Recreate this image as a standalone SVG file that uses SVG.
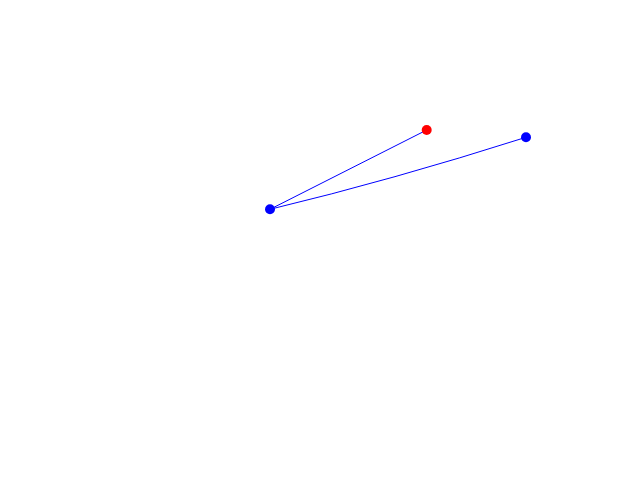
<svg xmlns="http://www.w3.org/2000/svg" width="640" height="480" viewBox="0 0 640 480">
<style>
.edge{fill:none;stroke:#0000ff;stroke-width:1}
.blue{fill:#0000ff}
.red{fill:#ff0000}
</style>
<rect width="640" height="480" fill="#ffffff"/>
<g id="connectors">
<path class="edge" d="M270,209.3 L426.7,130"/>
<path class="edge" d="M270,209.3 Q392,180 526,137.3"/>
</g>
<g id="node-a"><circle class="blue" cx="270" cy="209.3" r="5"/></g>
<g id="node-b"><circle class="red" cx="426.7" cy="130" r="5"/></g>
<g id="node-c"><circle class="blue" cx="526" cy="137.3" r="5"/></g>
</svg>
